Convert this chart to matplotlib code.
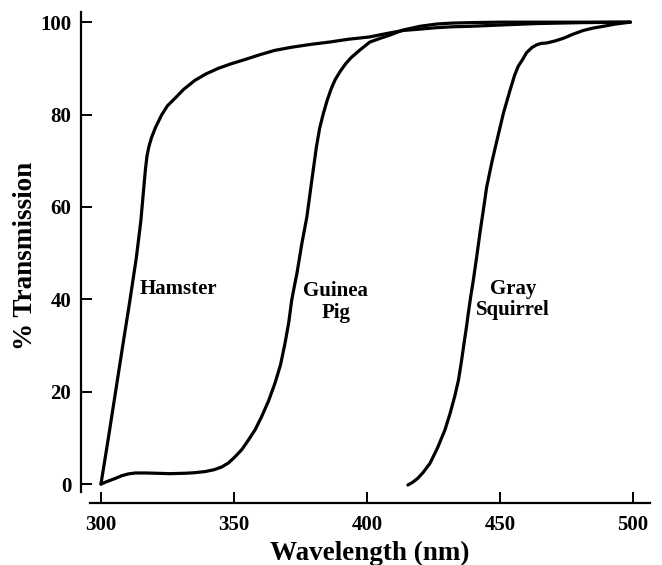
import matplotlib.pyplot as plt

# wavelength (nm) / % transmission
hamster_x = [300, 302.8, 305.5, 308.2, 310.9, 313.3, 315, 316, 316.7, 317.3, 318, 319, 320.5,
             322.8, 325, 327.8, 331, 335.3, 339.5, 344.1, 349, 354.1, 360, 365.4, 372,
             379, 386, 393, 401, 407, 413.6, 420, 426, 432, 438.7, 451, 463.8, 481, 499]
hamster_y = [0, 10, 20, 30, 39.8, 49, 57, 63.5, 68, 71, 73, 75, 77.2,
             79.9, 81.9, 83.5, 85.4, 87.4, 88.8, 90, 91, 91.9, 93, 93.9, 94.6,
             95.2, 95.7, 96.3, 96.8, 97.5, 98.2, 98.5, 98.8, 99, 99.1, 99.4, 99.7, 99.9, 100]

guinea_x = [300, 302.5, 305.3, 307.8, 310.3, 313, 316.5, 320, 323, 326, 329, 332, 335,
            339.1, 342.5, 345.4, 348, 350.4, 353, 355.4, 358, 360.4, 363, 365.4, 367.5,
            369.2, 370.6, 371.7, 372.7, 373.7, 375.5, 377.4, 379.2, 381, 382.2, 383.5,
            385, 386.5, 388, 390, 392, 394, 397.4, 401.1, 405, 408.6, 413.6, 419.9,
            426.2, 432, 438.7, 450, 470, 499]
guinea_y = [0, 0.6, 1.2, 1.8, 2.2, 2.4, 2.4, 2.35, 2.3, 2.25, 2.3, 2.35, 2.45,
            2.7, 3.1, 3.7, 4.6, 5.9, 7.5, 9.5, 11.8, 14.6, 18, 21.8, 25.8,
            30.5, 35, 39.8, 42.8, 45.7, 52, 57.8, 65.5, 73, 77, 80,
            83, 85.5, 87.5, 89.4, 91, 92.3, 94, 95.7, 96.5, 97.2, 98.3, 99.1,
            99.6, 99.8, 99.9, 100, 100, 100]

squirrel_x = [415.4, 417.2, 419, 421.1, 423.7, 426.5, 429.3, 431.2, 433, 434.4, 435.5,
              436.5, 437.4, 438.1, 439, 440, 441.2, 442.5, 443.8, 445, 447, 448.9,
              451.3, 453.8, 455.5, 456.9, 458.6, 460, 462, 463.8, 465.5, 467.6, 470.5,
              473.8, 477.5, 481.3, 484.8, 488.8, 493.5, 499]
squirrel_y = [-0.2, 0.4, 1.2, 2.5, 4.5, 7.8, 11.7, 15.2, 19, 22.5, 26.5,
              30.5, 34, 37, 40.6, 44.2, 49, 54.5, 59.5, 64.3, 69.8, 74.5,
              80.3, 85.3, 88.5, 90.5, 92, 93.4, 94.5, 95.1, 95.4, 95.5, 95.9,
              96.5, 97.4, 98.2, 98.7, 99.1, 99.6, 100]

x_ticks = [300, 350, 400, 450, 500]
y_ticks = [0, 20, 40, 60, 80, 100]

plt.rcParams['font.family'] = ['Liberation Serif', 'DejaVu Serif']
plt.rcParams['font.weight'] = 'bold'

fig = plt.figure(figsize=(6.62, 5.65), dpi=100)
ax = fig.add_axes([81 / 662, 62 / 565, 569 / 662, 491 / 565])

for xs, ys in [(hamster_x, hamster_y), (guinea_x, guinea_y), (squirrel_x, squirrel_y)]:
    ax.plot(xs, ys, color='black', lw=2.3, solid_joinstyle='round', solid_capstyle='round')

ax.set_xlim(292.5, 506.4)
ax.set_ylim(-4.1, 102.2)

ax.spines['top'].set_visible(False)
ax.spines['right'].set_visible(False)
ax.spines['left'].set_bounds(-1.7, 102.2)
ax.spines['bottom'].set_bounds(295.9, 506.4)
for s in ['left', 'bottom']:
    ax.spines[s].set_linewidth(1.6)

ax.set_xticks(x_ticks)
ax.set_yticks(y_ticks)
ax.tick_params(direction='in', length=8, width=1.4, labelsize=15)
ax.tick_params(axis='x', pad=9)
ax.tick_params(axis='y', pad=7)

ax.set_xlabel('Wavelength (nm)', fontsize=19.5, fontweight='bold', va='center')
ax.xaxis.set_label_coords(0.508, -0.102)
ax.set_ylabel('% Transmission', fontsize=19.5, fontweight='bold', va='center')
ax.yaxis.set_label_coords(-0.097, 0.503)

ax.text(314.7, 42.2, 'Hamster', fontsize=15, fontweight='bold', ha='left', va='center')
ax.text(388.3, 39.4, 'Guinea\nPig', fontsize=15, fontweight='bold', ha='center', va='center',
        multialignment='center', linespacing=1.1)
ax.text(454.9, 40.0, 'Gray\nSquirrel', fontsize=15, fontweight='bold', ha='center', va='center',
        multialignment='center', linespacing=1.1)

fig.savefig('out.png', dpi=100)
